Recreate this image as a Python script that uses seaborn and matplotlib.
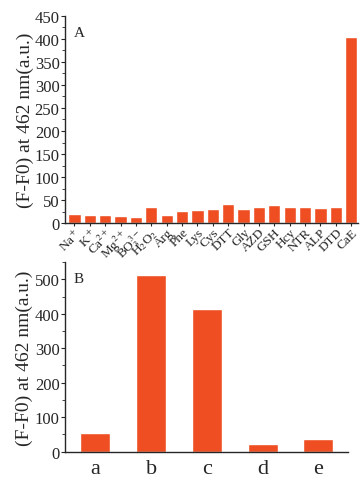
import matplotlib
matplotlib.use("Agg")
import matplotlib.pyplot as plt
import seaborn as sns
from matplotlib.ticker import MultipleLocator

sns.set_style("ticks")
plt.rcParams['font.family'] = ['Liberation Serif', 'DejaVu Serif']
plt.rcParams['mathtext.fontset'] = 'stix'

top_labels = ["Na$^+$", "K$^+$", "Ca$^{2+}$", "Mg$^{2+}$", "BO$_3^{3-}$", "H$_2$O$_2$",
              "Arg", "Phe", "Lys", "Cys", "DTT", "Gly", "AZD", "GSH", "Hcy", "NTR",
              "ALP", "DTD", "CaE"]
top_values = [19, 17, 18, 16, 14, 36, 17, 26, 28, 30, 41, 30, 35, 39, 34, 34, 32, 36, 405]

bot_labels = ["a", "b", "c", "d", "e"]
bot_values = [53, 514, 415, 22, 37]

bar_color = "#EE4E22"
ylabel = "(F-F0) at 462 nm(a.u.)"

fig = plt.figure(figsize=(3.64, 4.81), dpi=100)
ax1 = fig.add_axes([0.179, 0.534, 0.805, 0.431])
ax2 = fig.add_axes([0.179, 0.059, 0.777, 0.394])

sns.barplot(x=top_labels, y=top_values, color=bar_color, width=0.8, saturation=1, ax=ax1)
ax1.set_xlim(-0.6, 18.45)
ax1.set_ylim(0, 450)
ax1.yaxis.set_major_locator(MultipleLocator(50))
ax1.yaxis.set_minor_locator(MultipleLocator(25))
ax1.set_ylabel(ylabel, fontsize=14)
ax1.yaxis.set_label_coords(-0.108, 0.5)
ax1.tick_params(axis='y', labelsize=12, length=3, width=0.8, pad=1)
ax1.tick_params(axis='y', which='minor', length=2, width=0.6)
ax1.tick_params(axis='x', labelsize=9.5, length=2, pad=0)
for lab in ax1.get_xticklabels():
    lab.set_rotation(45)
    lab.set_ha('right')
    lab.set_rotation_mode('anchor')
ax1.text(0.03, 0.95, "A", transform=ax1.transAxes, fontsize=11, va='top')

sns.barplot(x=bot_labels, y=bot_values, color=bar_color, width=0.54, saturation=1, ax=ax2)
ax2.set_xlim(-0.54, 4.53)
ax2.set_ylim(0, 550)
ax2.yaxis.set_major_locator(MultipleLocator(100))
ax2.yaxis.set_minor_locator(MultipleLocator(50))
ax2.set_ylabel(ylabel, fontsize=14)
ax2.yaxis.set_label_coords(-0.113, 0.5)
ax2.tick_params(axis='y', labelsize=12, length=3, width=0.8, pad=1)
ax2.tick_params(axis='y', which='minor', length=2, width=0.6)
ax2.tick_params(axis='x', labelsize=16, length=0, pad=5)
ax2.text(0.03, 0.95, "B", transform=ax2.transAxes, fontsize=11, va='top')

for ax in (ax1, ax2):
    ax.set_xlabel("")
    sns.despine(ax=ax)
    for s in ("left", "bottom"):
        ax.spines[s].set_linewidth(1.0)

fig.savefig("out.png", dpi=100)
